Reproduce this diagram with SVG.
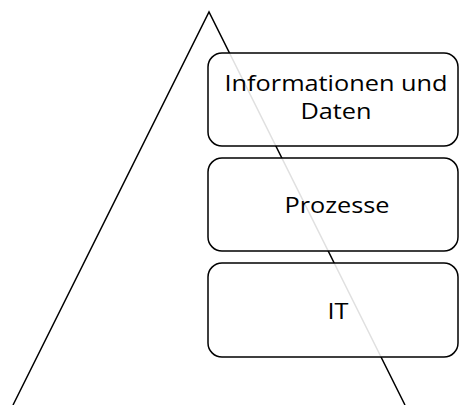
<svg xmlns="http://www.w3.org/2000/svg" width="459" height="405" viewBox="0 0 459 405">
  <style>
    .edge { fill: none; stroke: #000; stroke-width: 1.5; }
    .box { fill: #fff; fill-opacity: 0.88; stroke: #000; stroke-width: 1.5; }
    .label { font-family: "Open Sans", "Liberation Sans", sans-serif; font-size: 22px; fill: #000; text-anchor: middle; }
  </style>
  <rect width="459" height="405" fill="#fff"/>
  <g id="connectors">
    <polyline class="edge" points="13,405 209,12 405,405"/>
  </g>
  <!-- labels are drawn slightly wide: scale(1.15,1) around each centre -->
  <g id="node-info">
    <rect class="box" x="208" y="53" width="250" height="93" rx="14"/>
    <g transform="translate(336,0) scale(1.15,1)">
      <text class="label" x="0" y="91">Informationen und</text>
      <text class="label" x="0" y="119">Daten</text>
    </g>
  </g>
  <g id="node-prozesse">
    <rect class="box" x="208" y="158" width="250" height="93" rx="14"/>
    <g transform="translate(337,0) scale(1.15,1)">
      <text class="label" x="0" y="213">Prozesse</text>
    </g>
  </g>
  <g id="node-it">
    <rect class="box" x="208" y="263" width="250" height="94" rx="14"/>
    <g transform="translate(338,0) scale(1.15,1)">
      <text class="label" x="0" y="319">IT</text>
    </g>
  </g>
</svg>
